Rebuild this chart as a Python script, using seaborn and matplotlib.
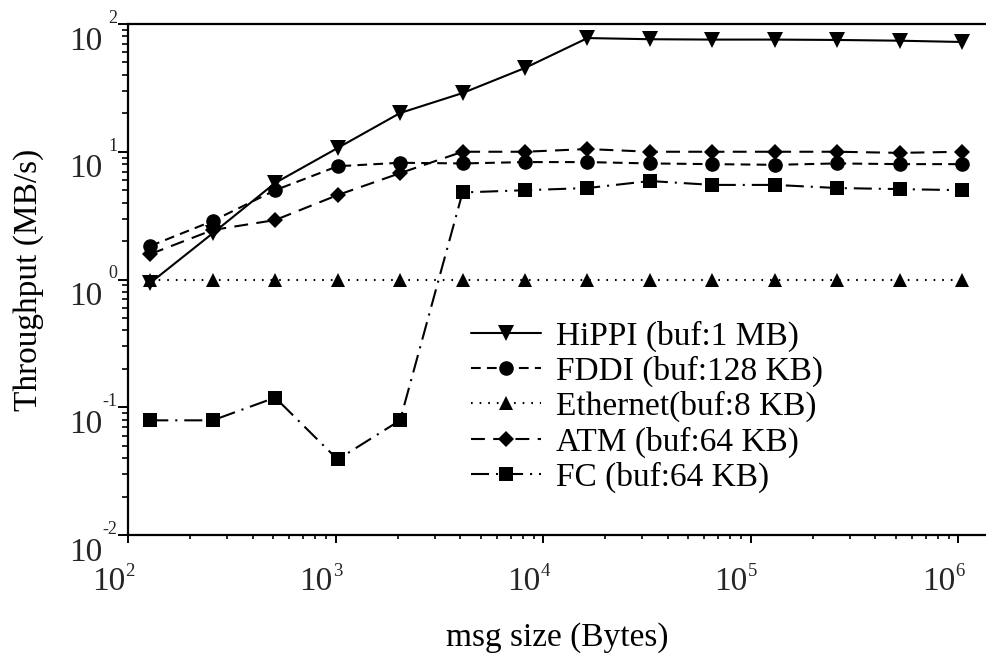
import matplotlib
matplotlib.use("Agg")
import matplotlib.pyplot as plt
import seaborn as sns
import pandas as pd

# -----------------------------
# DATA
# -----------------------------
msg_size = [128, 256, 512, 1024, 2048, 4096, 8192, 16384, 32768,
            65536, 131072, 262144, 524288, 1048576]

hippi = [0.94, 2.3, 5.7, 10.7, 20.1, 28.8, 45.3, 77.6, 76.0,
         75.5, 75.5, 75.0, 74.0, 72.3]
fddi = [1.83, 2.87, 5.0, 7.7, 8.2, 8.1, 8.3, 8.3, 8.1,
        8.0, 7.9, 8.1, 8.0, 8.0]
ethernet = [1.0, 1.0, 1.0, 1.0, 1.0, 1.0, 1.0, 1.0, 1.0,
            1.0, 1.0, 1.0, 1.0, 1.0]
atm = [1.58, 2.44, 2.92, 4.58, 6.8, 10.0, 10.0, 10.5, 10.0,
       10.0, 10.0, 10.0, 9.8, 10.0]
fc = [0.079, 0.079, 0.119, 0.039, 0.079, 4.8, 5.0, 5.2, 5.9,
      5.5, 5.5, 5.2, 5.1, 5.0]

labels = ["HiPPI (buf:1 MB)", "FDDI (buf:128 KB)", "Ethernet(buf:8 KB)",
          "ATM (buf:64 KB)", "FC (buf:64 KB)"]
x_exps = [2, 3, 4, 5, 6]
y_exps = [-2, -1, 0, 1, 2]

# -----------------------------
# STYLE
# -----------------------------
sns.set_theme(style="ticks")
plt.rcParams.update({
    "font.family": ["Liberation Serif", "DejaVu Serif"],
    "lines.scale_dashes": False,
    "axes.edgecolor": "black",
    "axes.linewidth": 1.6,
})

BIG = 24
SMALL = 13

fig = plt.figure(figsize=(9.86, 6.55), dpi=100, facecolor="white")
ax = fig.add_axes([128 / 986, 120 / 655, 858 / 986, 511 / 655])

series = [
    (hippi, "v", 11, "-"),
    (fddi, "o", 10.5, (0, (7, 4.5))),
    (ethernet, "^", 10, (0, (1.2, 5))),
    (atm, "D", 8, (0, (10, 6))),
    (fc, "s", 10.5, (0, (13, 5, 1.5, 5))),
]

for (vals, mk, ms, ls), lab in zip(series, labels):
    df = pd.DataFrame({"size": msg_size, "tp": vals})
    sns.lineplot(data=df, x="size", y="tp", ax=ax, color="black",
                 linewidth=1.5, linestyle=ls, marker=mk, markersize=ms,
                 markeredgewidth=0, label=lab)

ax.set_xscale("log")
ax.set_yscale("log")
ax.set_xlim(100, 10 ** (6 + 28 / 207.5))
ax.set_ylim(0.01, 100)

ax.spines["right"].set_visible(False)
ax.spines["top"].set_visible(True)

ax.tick_params(axis="y", which="major", direction="out", length=7.2,
               width=1.4, color="black")
ax.tick_params(axis="y", which="minor", direction="out", length=4.3,
               width=1.2, color="black")
ax.tick_params(axis="x", which="major", direction="out", length=5.5,
               width=1.4, color="black")
ax.tick_params(axis="x", which="minor", direction="out", length=3.2,
               width=1.2, color="black")

# tick labels drawn as "10" plus a small exponent, like the original
ax.set_xticks([10.0 ** e for e in x_exps])
ax.set_xticklabels([])
ax.set_yticks([10.0 ** e for e in y_exps])
ax.set_yticklabels([])

for e in x_exps:
    ax.annotate("10", xy=(10.0 ** e, 0), xycoords=("data", "axes fraction"),
                xytext=(-2, -34), textcoords="offset points",
                ha="right", va="center", fontsize=BIG, annotation_clip=False)
    ax.annotate(f"{e}", xy=(10.0 ** e, 0), xycoords=("data", "axes fraction"),
                xytext=(-2, -26.5), textcoords="offset points",
                ha="left", va="center", fontsize=SMALL + 0.5,
                annotation_clip=False)

for e in y_exps:
    ax.annotate("10", xy=(0, 10.0 ** e), xycoords=("axes fraction", "data"),
                xytext=(-18.5, -12.5), textcoords="offset points",
                ha="right", va="center", fontsize=BIG, annotation_clip=False)
    ax.annotate(f"{e}", xy=(0, 10.0 ** e), xycoords=("axes fraction", "data"),
                xytext=(-7.5, 4), textcoords="offset points",
                ha="right", va="center", fontsize=SMALL,
                annotation_clip=False)

ax.set_xlabel("msg size (Bytes)", fontsize=BIG, color="black")
ax.xaxis.set_label_coords(0.5, -0.17)
ax.set_ylabel("Throughput (MB/s)", fontsize=BIG, color="black")
ax.yaxis.set_label_coords(-0.098, 0.5)

leg = ax.legend(loc="upper left", bbox_to_anchor=(0.4, 0.42),
                frameon=False, fontsize=BIG, handlelength=2.1,
                handletextpad=0.45, labelspacing=0.12, borderpad=0,
                borderaxespad=0, markerscale=1.0)
for t in leg.get_texts():
    t.set_color("black")

fig.savefig("out.png", dpi=100, facecolor="white")
